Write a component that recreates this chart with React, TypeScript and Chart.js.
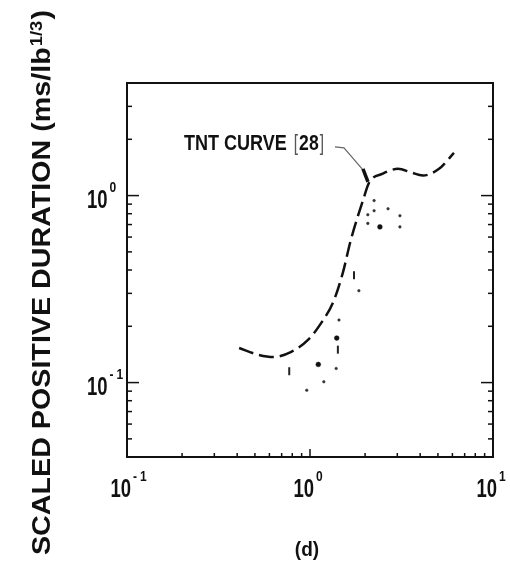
import React, { useEffect, useRef } from "react";
import { Chart, registerables } from "chart.js";

Chart.register(...registerables);

// TNT reference curve (scaled distance vs scaled positive duration)
const tntX = [0.41, 0.52, 0.63, 0.79, 0.975, 1.15, 1.34, 1.51, 1.67, 1.97, 2.1, 2.5, 3.03, 3.56, 4.14, 5.07, 6.12];
const tntY = [0.153, 0.141, 0.137, 0.146, 0.169, 0.208, 0.27, 0.385, 0.577, 0.976, 1.17, 1.31, 1.39, 1.33, 1.28, 1.39, 1.69];

// measured points, small marks
const smallX = [2.24, 2.24, 2.67, 2.07, 3.1, 2.07, 3.1, 1.85, 1.44, 1.39, 1.19, 0.96];
const smallY = [0.94, 0.83, 0.85, 0.79, 0.78, 0.71, 0.68, 0.31, 0.216, 0.119, 0.101, 0.091];

// measured points, heavy dots
const boldX = [2.41, 1.4, 1.11];
const boldY = [0.68, 0.173, 0.125];

// measured points drawn as short vertical bars
const barX = [1.74, 1.42, 0.77];
const barY = [0.375, 0.15, 0.115];

// axis ranges and labelled decades
const xRange = [0.1, 10];
const yRange = [0.04, 4];
const xDecades = [-1, 0, 1];
const yDecades = [-1, 0];

const yTitle = "SCALED POSITIVE DURATION (ms/lb";
const yTitleSup = "1/3";
const yTitleEnd = ")";
const curveLabel = "TNT CURVE ";
const curveRef = "28";
const panelLabel = "(d)";

const FONT = '"Liberation Sans", Arial, Helvetica, sans-serif';
const INK = "#111";

function pts(xs: number[], ys: number[]) {
  return xs.map((x, i) => ({ x, y: ys[i] }));
}

function measure(ctx: CanvasRenderingContext2D, s: string, size: number, sx: number, weight = "bold") {
  ctx.save();
  ctx.font = `${weight} ${size}px ${FONT}`;
  const w = ctx.measureText(s).width * sx;
  ctx.restore();
  return w;
}

function txt(
  ctx: CanvasRenderingContext2D,
  s: string,
  x: number,
  y: number,
  size: number,
  sx: number,
  align: "left" | "right" | "center" = "left",
  weight = "bold",
  color = INK
) {
  const w = measure(ctx, s, size, sx, weight);
  let x0 = x;
  if (align === "right") x0 = x - w;
  else if (align === "center") x0 = x - w / 2;
  ctx.save();
  ctx.font = `${weight} ${size}px ${FONT}`;
  ctx.translate(x0, y);
  ctx.scale(sx, 1);
  ctx.fillStyle = color;
  ctx.textAlign = "left";
  ctx.textBaseline = "alphabetic";
  ctx.fillText(s, 0, 0);
  ctx.restore();
  return w;
}

const MAIN = 25;
const MAIN_SX = 0.74;
const SUP = 15;
const SUP_SX = 0.8;

// draws "10" with a raised exponent; x is the left edge of "10"
function pow10(ctx: CanvasRenderingContext2D, exp: number, x: number, baseline: number) {
  const w = txt(ctx, "10", x, baseline, MAIN, MAIN_SX);
  let ex = x + w + 2;
  if (exp < 0) {
    ex += txt(ctx, "-", ex, baseline - 16, SUP, SUP_SX) + 3;
  }
  txt(ctx, String(Math.abs(exp)), ex, baseline - 16, SUP, SUP_SX);
}

function line(ctx: CanvasRenderingContext2D, x1: number, y1: number, x2: number, y2: number) {
  ctx.beginPath();
  ctx.moveTo(x1, y1);
  ctx.lineTo(x2, y2);
  ctx.stroke();
}

const decorations = {
  id: "decorations",
  afterDraw(chart: any) {
    const ctx: CanvasRenderingContext2D = chart.ctx;
    const xs = chart.scales.x;
    const ys = chart.scales.y;
    const { left, right, top, bottom } = chart.chartArea;

    ctx.save();
    ctx.strokeStyle = INK;
    ctx.lineCap = "butt";

    // frame
    ctx.lineWidth = 2;
    ctx.strokeRect(left, top, right - left, bottom - top);

    // inward ticks
    ctx.lineWidth = 1.5;
    for (let d = -1; d <= 0; d++) {
      for (let m = 1; m <= 9; m++) {
        const v = m * Math.pow(10, d);
        if (v <= xRange[0] || v >= xRange[1]) continue;
        const px = xs.getPixelForValue(v);
        line(ctx, px, bottom, px, bottom - (m === 1 ? 8 : 4));
      }
    }
    for (let d = -2; d <= 0; d++) {
      for (let m = 1; m <= 9; m++) {
        const v = m * Math.pow(10, d);
        if (v <= yRange[0] * 1.001 || v >= yRange[1] * 0.999) continue;
        const py = ys.getPixelForValue(v);
        const len = m === 1 ? 12 : 5;
        line(ctx, left, py, left + len, py);
        line(ctx, right, py, right - len, py);
      }
    }

    // tick labels
    xDecades.forEach((d) => {
      const px = xs.getPixelForValue(Math.pow(10, d));
      const w10 = measure(ctx, "10", MAIN, MAIN_SX);
      pow10(ctx, d, px + 4 - w10, bottom + 40);
    });
    yDecades.forEach((d) => {
      const py = ys.getPixelForValue(Math.pow(10, d));
      pow10(ctx, d, left - 40, py + 12);
    });

    // vertical axis title
    const tSize = 25;
    const w1 = measure(ctx, yTitle, tSize, 1);
    const w2 = measure(ctx, yTitleSup, 16, 1);
    const w3 = measure(ctx, yTitleEnd, tSize, 1);
    const s = 545 / (w1 + w2 + 2 + w3);
    ctx.save();
    ctx.translate(50, 555);
    ctx.rotate(-Math.PI / 2);
    ctx.scale(s, 1);
    ctx.fillStyle = INK;
    ctx.textBaseline = "alphabetic";
    ctx.font = `bold ${tSize}px ${FONT}`;
    ctx.fillText(yTitle, 0, 0);
    ctx.font = `bold 16px ${FONT}`;
    ctx.fillText(yTitleSup, w1 + 1, -8);
    ctx.font = `bold ${tSize}px ${FONT}`;
    ctx.fillText(yTitleEnd, w1 + w2 + 2, 0);
    ctx.restore();

    // curve annotation with leader
    const tx = xs.getPixelForValue(tntX[10]);
    const ty = ys.getPixelForValue(tntY[10]);
    ctx.strokeStyle = "#666";
    ctx.lineWidth = 1.2;
    ctx.beginPath();
    ctx.moveTo(tx - 34, ty - 36);
    ctx.lineTo(tx - 25, ty - 35);
    ctx.lineTo(tx - 6, ty - 13);
    ctx.stroke();
    ctx.strokeStyle = INK;
    ctx.lineWidth = 3.5;
    line(ctx, tx - 6, ty - 14, tx - 1, ty - 1);

    const base = ty - 33;
    const endX = tx - 45;
    const LSZ = 22;
    const LSX = 0.8;
    const wb = measure(ctx, "]", LSZ, 0.7, "normal");
    const wn = measure(ctx, curveRef, LSZ, LSX);
    const wo = measure(ctx, "[", LSZ, 0.7, "normal");
    let cx = endX - wb;
    txt(ctx, "]", cx, base, LSZ, 0.7, "left", "normal", "#555");
    cx -= wn + 1;
    txt(ctx, curveRef, cx, base, LSZ, LSX);
    cx -= wo + 1;
    txt(ctx, "[", cx, base, LSZ, 0.7, "left", "normal", "#555");
    txt(ctx, curveLabel, cx - 2, base, LSZ, 0.82, "right");

    // panel label
    txt(ctx, panelLabel, (left + right) / 2 - 3, 556, 20, 0.95, "center");

    ctx.restore();
  },
};

export default function App() {
  const ref = useRef<HTMLCanvasElement | null>(null);

  useEffect(() => {
    if (!ref.current) return;
    const chart = new Chart(ref.current, {
      type: "scatter",
      data: {
        datasets: [
          {
            type: "line",
            label: "TNT",
            data: pts(tntX, tntY),
            borderColor: INK,
            borderWidth: 2.5,
            borderDash: [15, 6],
            pointRadius: 0,
            cubicInterpolationMode: "monotone",
            fill: false,
          } as any,
          {
            label: "small",
            data: pts(smallX, smallY),
            pointRadius: 1.3,
            pointBackgroundColor: "#333",
            pointBorderColor: "#333",
            pointBorderWidth: 0.5,
          },
          {
            label: "bold",
            data: pts(boldX, boldY),
            pointRadius: 2.4,
            pointBackgroundColor: INK,
            pointBorderColor: INK,
            pointBorderWidth: 0.5,
          },
          {
            label: "bars",
            data: pts(barX, barY),
            pointStyle: "line",
            rotation: 90,
            pointRadius: 4,
            pointBorderColor: "#222",
            pointBorderWidth: 2,
          } as any,
        ],
      },
      options: {
        animation: false,
        responsive: false,
        events: [],
        layout: { padding: { left: 127, top: 83, right: 17, bottom: 113 } },
        plugins: { legend: { display: false }, tooltip: { enabled: false } },
        scales: {
          x: { type: "logarithmic", min: xRange[0], max: xRange[1], display: false },
          y: { type: "logarithmic", min: yRange[0], max: yRange[1], display: false },
        },
      },
      plugins: [decorations],
    });
    return () => chart.destroy();
  }, []);

  return (
    <div style={{ position: "absolute", left: 0, top: 0, width: 510, height: 570, background: "#fff" }}>
      <canvas ref={ref} width={510} height={570} style={{ display: "block" }} />
    </div>
  );
}
